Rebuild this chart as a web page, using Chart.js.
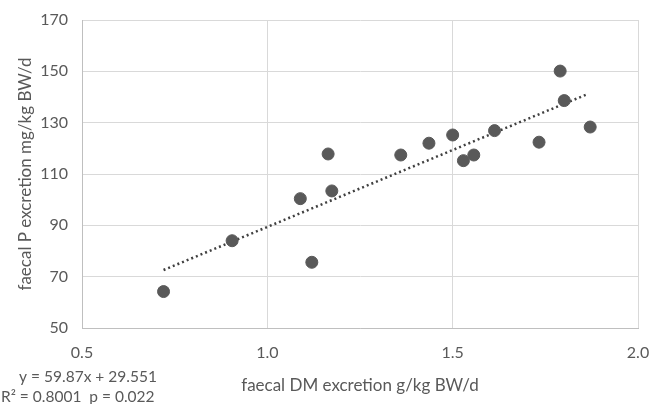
<!DOCTYPE html>
<html>
<head>
<meta charset="utf-8">
<script src="https://cdn.jsdelivr.net/npm/chart.js@4"></script>
<style>
  html, body { margin: 0; padding: 0; background: #fff; }
  #wrap { width: 653px; height: 404px; }
</style>
</head>
<body>
<div id="wrap"><canvas id="scatterChart"></canvas></div>
<script>
// faecal DM excretion (g/kg BW/d) vs faecal P excretion (mg/kg BW/d)
const dmValues = [0.72, 0.905, 1.089, 1.12, 1.164, 1.174, 1.36, 1.436, 1.50, 1.529, 1.557, 1.613, 1.733, 1.79, 1.801, 1.871];
const pValues = [64.2, 84.0, 100.4, 75.6, 117.8, 103.4, 117.4, 122.0, 125.2, 115.2, 117.4, 126.9, 122.4, 150.1, 138.6, 128.3];
const trendX = [0.72, 1.86];
const trendY = [72.6, 140.9];
const xTicks = [0.5, 1.0, 1.5, 2.0];
const yTicks = [50, 70, 90, 110, 130, 150, 170];
const equationLines = ['y = 59.87x + 29.551', 'R\u00b2 = 0.8001  p = 0.022'];

document.addEventListener("DOMContentLoaded", function () {
    const ctx = document.getElementById('scatterChart').getContext('2d');
    const textColor = '#595959';
    const font = 'Lato, "Liberation Sans", sans-serif';

    const points = dmValues.map((x, i) => ({ x: x, y: pValues[i] }));
    const trend = trendX.map((x, i) => ({ x: x, y: trendY[i] }));

    const equationPlugin = {
        id: 'equation',
        afterDraw(chart) {
            const c = chart.ctx;
            c.save();
            c.fillStyle = textColor;
            c.font = '15.5px ' + font;
            c.textAlign = 'center';
            c.textBaseline = 'middle';
            c.fillText(equationLines[0], 88, 377);
            c.textAlign = 'left';
            c.fillText(equationLines[1], 1, 397);
            c.restore();
        }
    };

    new Chart(ctx, {
        type: 'scatter',
        data: {
            datasets: [{
                label: 'data',
                data: points,
                backgroundColor: '#595959',
                borderColor: '#595959',
                pointRadius: 6,
                pointHoverRadius: 6
            }, {
                label: 'trend',
                type: 'line',
                data: trend,
                showLine: true,
                borderColor: '#404040',
                borderWidth: 2.5,
                borderDash: [2, 3],
                pointRadius: 0,
                fill: false
            }]
        },
        options: {
            responsive: true,
            maintainAspectRatio: false,
            animation: false,
            layout: { padding: { top: 20, right: 15, left: 0, bottom: 0 } },
            plugins: {
                legend: { display: false },
                tooltip: { enabled: false }
            },
            scales: {
                x: {
                    type: 'linear',
                    min: 0.5,
                    max: 2.0,
                    afterBuildTicks: (scale) => { scale.ticks = xTicks.map(v => ({ value: v })); },
                    afterFit: (scale) => {
                        scale.height = 76;
                        scale.paddingLeft = 0;
                        scale.paddingRight = 0;
                    },
                    grid: { color: '#d9d9d9', drawTicks: false, lineWidth: 1 },
                    border: { color: '#bfbfbf' },
                    ticks: {
                        color: textColor,
                        font: { family: font, size: 16 },
                        padding: 15,
                        callback: (v) => Number(v).toFixed(1)
                    },
                    title: {
                        display: true,
                        text: 'faecal DM excretion g/kg BW/d',
                        color: textColor,
                        font: { family: font, size: 17 },
                        padding: { top: 0, bottom: 8 }
                    }
                },
                y: {
                    type: 'linear',
                    min: 50,
                    max: 170,
                    afterBuildTicks: (scale) => { scale.ticks = yTicks.map(v => ({ value: v })); },
                    afterFit: (scale) => {
                        scale.width = 82;
                        scale.paddingTop = 0;
                        scale.paddingBottom = 0;
                    },
                    grid: { color: '#d9d9d9', drawTicks: false, lineWidth: 1 },
                    border: { color: '#bfbfbf' },
                    ticks: {
                        color: textColor,
                        font: { family: font, size: 16 },
                        padding: 14
                    },
                    title: {
                        display: true,
                        text: 'faecal P excretion mg/kg BW/d',
                        color: textColor,
                        font: { family: font, size: 17 },
                        padding: { top: 15, bottom: 4 }
                    }
                }
            }
        },
        plugins: [equationPlugin]
    });
});
</script>
</body>
</html>
